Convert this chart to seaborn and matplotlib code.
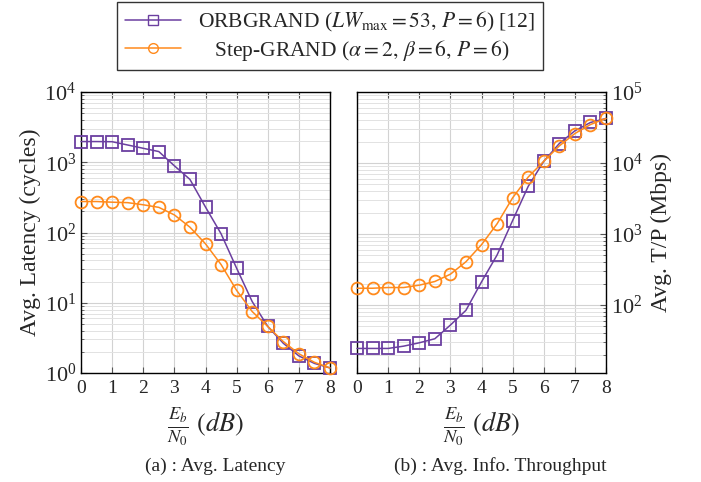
import numpy as np
import pandas as pd
import seaborn as sns
import matplotlib.pyplot as plt
from matplotlib.lines import Line2D

# Eb/N0 points (dB)
ebn0 = [0, 0.5, 1, 1.5, 2, 2.5, 3, 3.5, 4, 4.5, 5, 5.5, 6, 6.5, 7, 7.5, 8]

# average latency (cycles)
lat_orb = [1970, 1970, 1960, 1760, 1580, 1420, 890, 570, 230, 96, 31, 10.4, 4.6, 2.65, 1.75, 1.37, 1.18]
lat_step = [276, 276, 270, 266, 248, 228, 178, 119, 69, 35, 15, 7.5, 4.6, 2.8, 1.88, 1.42, 1.18]

# average info throughput (Mbps)
tp_orb = [24.4, 24.4, 24.4, 26.3, 29.3, 33.4, 52, 84, 211, 505, 1545, 4680, 10560, 18800, 28400, 37200, 42400]
tp_step = [172, 172, 176, 176, 190, 214, 271, 406, 706, 1390, 3230, 6340, 10560, 17400, 26000, 34800, 42400]

purple = '#6b3fa0'
orange = '#ff8a1c'

sns.set_style("white")
plt.rcParams['font.family'] = ['Liberation Serif', 'DejaVu Serif']
plt.rcParams['mathtext.fontset'] = 'stix'

fig = plt.figure(figsize=(7.01, 4.82), dpi=100)
ax1 = fig.add_axes([81 / 701, 1 - 373 / 482, 249 / 701, 281 / 482])
ax2 = fig.add_axes([357 / 701, 1 - 373 / 482, 249 / 701, 281 / 482])

style_orb = dict(color=purple, marker='s', markersize=8, markerfacecolor='none',
                 markeredgecolor=purple, markeredgewidth=1.3, linewidth=1.1, clip_on=False)
style_step = dict(color=orange, marker='o', markersize=8.5, markerfacecolor='none',
                  markeredgecolor=orange, markeredgewidth=1.3, linewidth=1.1, clip_on=False)

sns.lineplot(x=ebn0, y=lat_orb, ax=ax1, **style_orb)
sns.lineplot(x=ebn0, y=lat_step, ax=ax1, **style_step)
sns.lineplot(x=ebn0, y=tp_orb, ax=ax2, **style_orb)
sns.lineplot(x=ebn0, y=tp_step, ax=ax2, **style_step)

for ax in (ax1, ax2):
    ax.set_yscale('log')
    ax.set_xlim(0, 8)
    ax.set_xticks(range(9))
    ax.grid(True, which='major', color='#d2d2d2', linewidth=0.8)
    ax.grid(True, which='minor', axis='y', color='#e2e2e2', linewidth=0.7)
    ax.set_axisbelow(True)
    for s in ax.spines.values():
        s.set_color('black')
        s.set_linewidth(1.0)
        s.set_zorder(1.5)
    ax.tick_params(axis='x', which='major', direction='in', top=True, bottom=True,
                   length=4, labelsize=14, color='#555555', pad=5)
    ax.set_xlabel(r'$\frac{E_b}{N_0}\ (dB)$', fontsize=19, labelpad=6)

ax1.set_ylim(1, 1e4)
ax1.tick_params(axis='y', which='both', direction='in', left=True, right=False, labelsize=16, color='#555555')
ax1.tick_params(axis='y', which='major', length=4)
ax1.tick_params(axis='y', which='minor', length=2)
ax1.set_ylabel('Avg. Latency (cycles)', fontsize=17, labelpad=2)

ax2.set_ylim(11, 1e5)
ax2.yaxis.tick_right()
ax2.yaxis.set_label_position('right')
ax2.tick_params(axis='y', which='both', direction='in', left=False, right=True, labelsize=16, color='#555555')
ax2.tick_params(axis='y', which='major', length=4)
ax2.tick_params(axis='y', which='minor', length=2)
ax2.set_ylabel('Avg. T/P (Mbps)', fontsize=17, labelpad=6)

fig.text(215 / 701, 1 - 466 / 482, '(a) : Avg. Latency', ha='center', va='center', fontsize=14)
fig.text(500 / 701, 1 - 466 / 482, '(b) : Avg. Info. Throughput', ha='center', va='center', fontsize=14)

handles = [
    Line2D([], [], color=purple, marker='s', markersize=7, markerfacecolor='none', linewidth=1.1),
    Line2D([], [], color=orange, marker='o', markersize=7, markerfacecolor='none', linewidth=1.1),
]
labels = [r'ORBGRAND ($LW_{\mathrm{max}} = 53,\, P = 6$) [12]',
          r'   Step-GRAND ($\alpha = 2,\, \beta = 6,\, P = 6$)']
leg = fig.legend(handles, labels, loc='upper center', bbox_to_anchor=(330 / 701, 1 - 2 / 482),
                 fontsize=15.5, frameon=True, fancybox=False, edgecolor='black', borderaxespad=0,
                 handlelength=2.6, borderpad=0.35, labelspacing=0.2, handletextpad=0.8)
leg.get_frame().set_linewidth(1.0)

fig.savefig('out.png', dpi=100)
